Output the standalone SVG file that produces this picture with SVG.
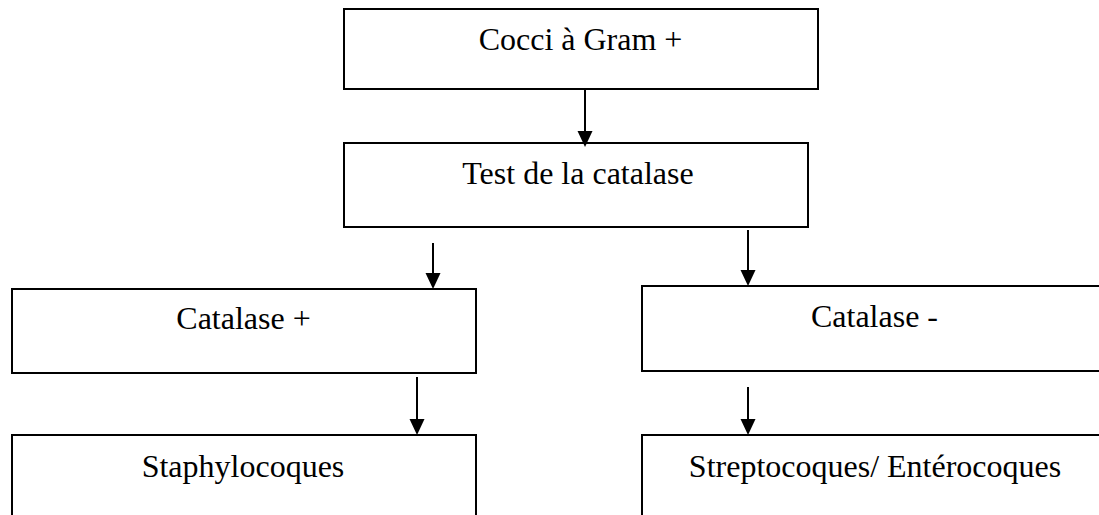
<svg xmlns="http://www.w3.org/2000/svg" width="1099" height="515" viewBox="0 0 1099 515">
  <style>
    .box { fill: #ffffff; stroke: #000000; stroke-width: 2; }
    .lbl { font-family: "Liberation Serif", "Times New Roman", serif; font-size: 32px; fill: #000000; text-anchor: middle; }
    .conn { stroke: #000000; stroke-width: 2; fill: none; marker-end: url(#arrow); }
  </style>
  <defs>
    <marker id="arrow" markerUnits="userSpaceOnUse" markerWidth="16" markerHeight="16" viewBox="0 0 16 16" refX="8" refY="8" orient="auto">
      <path d="M0,0.5 L16,8 L0,15.5 Z" fill="#000000"/>
    </marker>
  </defs>
  <rect width="1099" height="515" fill="#ffffff"/>

  <g id="node-cocci">
    <rect class="box" x="344" y="9" width="474" height="80"/>
    <text class="lbl" x="580.5" y="50">Cocci à Gram +</text>
  </g>
  <g id="node-test">
    <rect class="box" x="344" y="143" width="464" height="84"/>
    <text class="lbl" x="578" y="184">Test de la catalase</text>
  </g>
  <g id="node-catplus">
    <rect class="box" x="12" y="289" width="464" height="84"/>
    <text class="lbl" x="243.5" y="329">Catalase +</text>
  </g>
  <g id="node-staph">
    <rect class="box" x="12" y="435" width="464" height="90"/>
    <text class="lbl" x="243" y="477">Staphylocoques</text>
  </g>
  <g id="node-catminus">
    <rect class="box" x="642" y="286" width="466" height="85"/>
    <text class="lbl" x="874.5" y="327">Catalase -</text>
  </g>
  <g id="node-strepto">
    <rect class="box" x="642" y="435" width="466" height="90"/>
    <text class="lbl" x="875" y="477">Streptocoques/ Entérocoques</text>
  </g>

  <g id="connectors">
    <line class="conn" x1="585" y1="90" x2="585" y2="139"/>
    <line class="conn" x1="433" y1="243" x2="433" y2="281"/>
    <line class="conn" x1="417" y1="377" x2="417" y2="427"/>
    <line class="conn" x1="748" y1="230" x2="748" y2="278"/>
    <line class="conn" x1="748" y1="387" x2="748" y2="427"/>
  </g>
</svg>
